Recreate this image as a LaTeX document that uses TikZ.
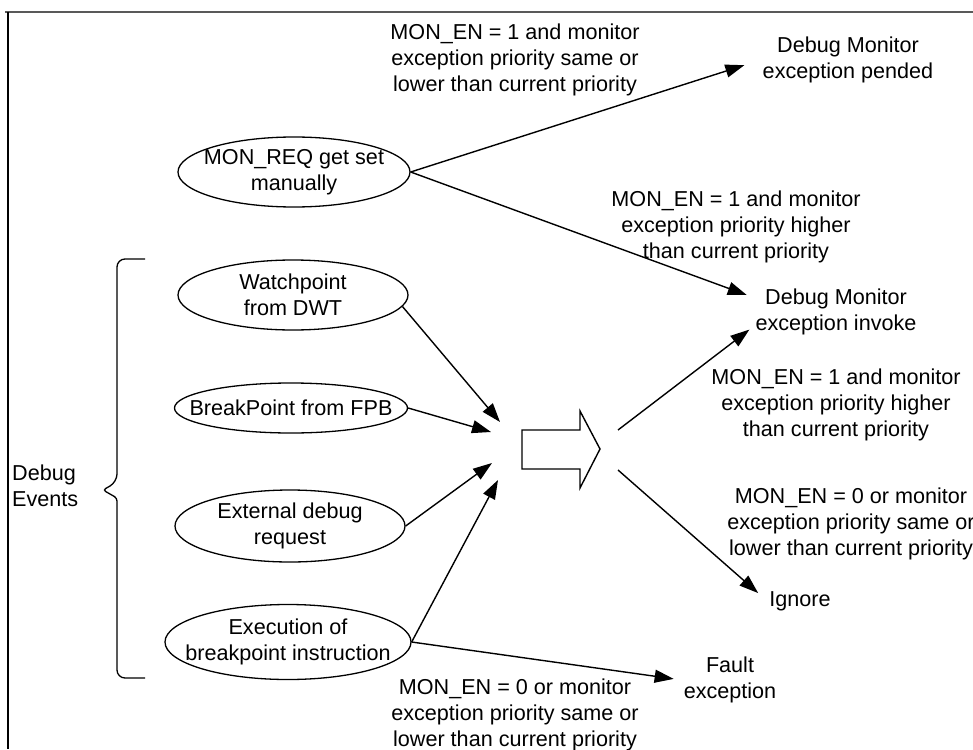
\documentclass[tikz,border=0pt]{standalone}
\usepackage{fontspec}
\setmainfont{Liberation Sans}
\usetikzlibrary{arrows.meta, shapes.geometric}

\begin{document}
\begin{tikzpicture}[x=1pt, y=-1pt, >={Triangle[length=19pt,width=13pt]},
  every node/.style={font=\fontsize{21.6}{26}\selectfont},
  event/.style={draw, ellipse, line width=1.3pt, inner sep=-30pt, align=center},
  note/.style={align=center, inner sep=2pt},
  flow/.style={->, line width=1.4pt}]
  \useasboundingbox (0,0) rectangle (973,749);
  % frame
  \draw [line width=1.2pt, black!65] (5,12) -- (973,12);
  \draw [line width=1.5pt] (8,12) -- (8,749);
  % debug events
  \node [event, minimum width=232pt, minimum height=70pt] (req) at (294,172) {MON\_REQ get set\\manually};
  \node [event, minimum width=230pt, minimum height=70pt] (wp) at (293,295) {Watchpoint\\from DWT};
  \node [event, minimum width=233pt, minimum height=50pt] (bp) at (291,408) {BreakPoint from FPB};
  \node [event, minimum width=230pt, minimum height=72pt] (ext) at (290,526) {External debug\\request};
  \node [event, minimum width=246pt, minimum height=75pt] (exe) at (288,642) {Execution of\\breakpoint instruction};
  \node [note, align=left, anchor=west] (dbg) at (10,486) {Debug\\Events};
  % brace
  \draw [line width=1.3pt, rounded corners=8pt] (145,259) -- (117,259) -- (117,482)
    [rounded corners=3pt] -- (103,490) -- (117,498) [rounded corners=8pt] -- (117,678) -- (145,678);
  % hollow arrow
  \draw [line width=1.4pt] (522,430) -- (580,430) -- (580,411) -- (600,449) -- (580,488)
    -- (580,469) -- (522,469) -- cycle;
  \coordinate (in1) at (500,422);
  \coordinate (in2) at (491,432);
  \coordinate (in3) at (492,463);
  \coordinate (in4) at (498,480);
  \coordinate (out1) at (618,430);
  \coordinate (out2) at (618,470);
  % results
  \node [note] (pend) at (848,60) {Debug Monitor\\exception pended};
  \node [note] (inv) at (836,312) {Debug Monitor\\exception invoke};
  \node [note] (ign) at (800,601) {Ignore};
  \node [note] (fault) at (730,680) {Fault\\exception};
  % conditions
  \node [note] (lpend) at (515,60) {MON\_EN = 1 and monitor\\exception priority same or\\lower than current priority};
  \node [note] (lhi1) at (736,227) {MON\_EN = 1 and monitor\\exception priority higher\\than current priority};
  \node [note] (lhi2) at (836,405) {MON\_EN = 1 and monitor\\exception priority higher\\than current priority};
  \node [note] (lign) at (851,524) {MON\_EN = 0 or monitor\\exception priority same or\\lower than current priority};
  \node [note] (lfault) at (515,715) {MON\_EN = 0 or monitor\\exception priority same or\\lower than current priority};
  % connectors
  \draw [flow] (wp.-6) -- (in1);
  \draw [flow] (bp.east) -- (in2);
  \draw [flow] (ext.east) -- (in3);
  \draw [flow] (exe.east) -- (in4);
  \draw [flow, shorten >=8pt] (exe.east) -- (fault.west);
  \draw [flow, shorten >=17pt] (req.east) -- (pend.west);
  \draw [flow, shorten >=7pt] (req.east) -- (inv.170);
  \draw [flow, shorten >=5pt] (out1) -- (inv.190);
  \draw [flow, shorten >=12pt] (out2) -- (ign.west);
\end{tikzpicture}
\end{document}
